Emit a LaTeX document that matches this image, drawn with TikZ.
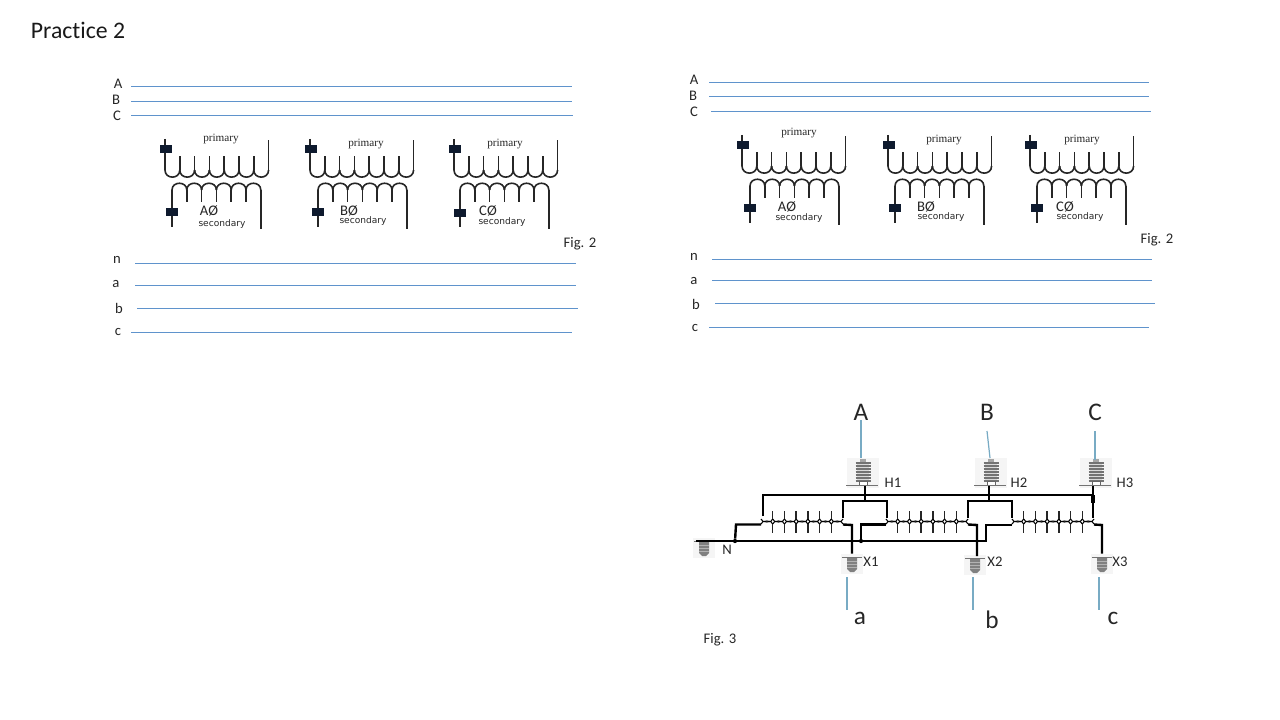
\documentclass[tikz,border=0pt]{standalone}
\usepackage{fontspec}
\setmainfont[Ligatures=NoCommon]{Carlito}
\newfontfamily\prifont{Liberation Serif}
\newfontfamily\secfont{DejaVu Sans}
\usepackage{xcolor}
\usetikzlibrary{positioning}
\definecolor{phaseblue}{HTML}{5F93CC}
\definecolor{feedblue}{HTML}{78ABC4}
\definecolor{boxnavy}{HTML}{0E1A2E}
\definecolor{inktext}{HTML}{262626}

% one transformer: name, post x, top y, sec x, sec box y
\newcommand{\xfmrunit}[5]{
	\begin{scope}[shift={(#2,#3)}]
		\coordinate (#1-pt) at (0,0);
		\coordinate (#1-pb) at (0,31);
		\draw[winding] (#1-pt) -- (#1-pb);
		\foreach \i in {0,...,6}
			\draw[winding] ({\i*14.8},31) .. controls ({\i*14.8},40.5) and ({(\i+1)*14.8},40.5) .. ({(\i+1)*14.8},31);
		\foreach \i in {1,...,6}
			\draw[winding] ({\i*14.8},31) -- ({\i*14.8},17);
		\draw[winding] (103.6,31) -- (103.6,1);
		\node[blackbox] (#1-pbox) at (1,10) {};
	\end{scope}
	\begin{scope}[shift={(#4,#3)}]
		\coordinate (#1-st) at (0,51);
		\coordinate (#1-sb) at (0,88);
		\draw[winding] (#1-st) -- (#1-sb);
		\foreach \i in {0,...,5}
			\draw[winding] ({\i*14.8},51) .. controls ({\i*14.8},42) and ({(\i+1)*14.8},42) .. ({(\i+1)*14.8},51);
		\foreach \i in {1,...,5}
			\draw[winding] ({\i*14.8},51) -- ({\i*14.8},63);
		\draw[winding] (88.8,51) -- (88.8,90);
		\node[blackbox] (#1-sbox) at (0,#5) {};
	\end{scope}
}

% small coil of fig 3: name, x left, width
\newcommand{\smallcoil}[3]{
	\begin{scope}[shift={(#2,521.5)}]
		\foreach \i in {0,...,6} {
			\draw[thick] ({\i*#3/7},-2.5) .. controls ({\i*#3/7},1.5) and ({(\i+1)*#3/7},1.5) .. ({(\i+1)*#3/7},-2.5);
			\draw[thick] ({\i*#3/7},2.5) .. controls ({\i*#3/7},-1.5) and ({(\i+1)*#3/7},-1.5) .. ({(\i+1)*#3/7},2.5);
		}
		\foreach \i in {1,...,6} {
			\draw[coilpost] ({\i*#3/7},-2.5) -- ({\i*#3/7},-11);
			\draw[coilpost] ({\i*#3/7},2.5) -- ({\i*#3/7},11);
		}
		\coordinate (#1-pl) at (0,-3);
		\coordinate (#1-pr) at (#3,-3);
		\coordinate (#1-sl) at (0,3);
		\coordinate (#1-sr) at (#3,3);
	\end{scope}
}

% high side bushing: name, x, y
\newcommand{\hvbushing}[3]{
	\node[bushbg,minimum width=24pt,minimum height=22pt] (#1) at (#2,#3) {};
	\begin{scope}[shift={(#2,#3)}]
		\fill[gray!70] (-3,-14) rectangle (3,-11);
		\fill[gray!30] (-6,-11) rectangle (6,8);
		\foreach \d in {-10,-7,...,8}
			\draw[line width=1pt,black!55] (-7.5,\d) -- (7.5,\d);
		\draw[black!60,fill=white] (-4,8.5) rectangle (4,12);
		\draw[black!55,semithick] (-17,12) -- (15,12);
	\end{scope}
}

% low side bushing: name, x, y
\newcommand{\lvbushing}[3]{
	\node[bushbg,minimum width=16.5pt,minimum height=15pt] (#1) at (#2,#3) {};
	\begin{scope}[shift={(#2,#3)}]
		\draw[black!55,semithick] (-10,-7) -- (10,-7);
		\fill[black!50] (-5,-6) -- (5,-6) -- (5,5) -- (2,8) -- (-2,8) -- (-5,5) -- cycle;
		\foreach \d in {-3,0,3}
			\draw[black!30] (-5,\d) -- (5,\d);
	\end{scope}
}

\begin{document}
\begin{tikzpicture}[x=0.75pt,y=-0.75pt]
	\tikzstyle{phase}=[draw=phaseblue,line width=1pt]
	\tikzstyle{feed}=[draw=feedblue,line width=0.9pt]
	\tikzstyle{winding}=[draw=black!85,line width=1.2pt]
	\tikzstyle{coilpost}=[draw=black!85,line width=1pt]
	\tikzstyle{heavy}=[draw=black,line width=1.8pt]
	\tikzstyle{blackbox}=[fill=boxnavy,draw=none,minimum width=9.5pt,minimum height=5.5pt,inner sep=0pt]
	\tikzstyle{bushbg}=[fill=gray!8,draw=none,inner sep=0pt]
	\tikzstyle{lbl}=[inner sep=0pt,text=inktext,font=\fontsize{11}{13}\selectfont]
	\tikzstyle{biglbl}=[inner sep=0pt,text=inktext,font=\fontsize{19}{21}\selectfont]
	\tikzstyle{prilbl}=[inner sep=0pt,text=inktext,font=\prifont\fontsize{8.4}{10}\selectfont]
	\tikzstyle{seclbl}=[inner sep=0pt,text=inktext,font=\secfont\fontsize{6.8}{8}\selectfont]
	\tikzstyle{dotjoin}=[circle,fill=black,inner sep=0pt,minimum size=3.2pt]

	\useasboundingbox (0,0) rectangle (1280,720);
	\node [inner sep=0pt,text=black!90,font=\fontsize{17.8}{20}\selectfont] (title) at (78,30) {Practice 2};

	% bus lines
	\foreach \n/\t/\lx/\ly/\xa/\ya/\xb in {LA/A/118/84/131/86.5/572,LB/B/116/100/131/101.5/572,LC/C/117/116/131/115.5/573,
		Ln/n/117/260/135/263.5/576,La/a/116/284/135/285.5/576,Lb/b/119/308/137/308.5/578,Lc/c/118/332/131/332.5/572,
		RA/A/694/80/709/82.5/1149,RB/B/693/96/709/96.5/1149,RC/C/694/112/711/111.5/1151,
		Rn/n/694/257/712/259.5/1152,Ra/a/694/281/712/280.5/1152,Rb/b/696/304/715/303.5/1155,Rc/c/695/328/709/327.5/1149} {
		\node [lbl] (\n) at (\lx,\ly) {\t};
		\coordinate (\n-s) at (\xa,\ya);
		\coordinate (\n-e) at (\xb,\ya);
		\draw [phase] (\n-s) -- (\n-e);
	}

	% fig 2 left
	\xfmrunit{T1}{165}{139}{172}{73}
	\xfmrunit{T2}{310}{139}{318}{73}
	\xfmrunit{T3}{454}{139}{460}{74}
	\node [prilbl] (T1-p) at (221,139) {primary};
	\node [prilbl] (T2-p) at (366,144) {primary};
	\node [prilbl] (T3-p) at (505,144) {primary};
	\node [lbl] (T1-ph) at (209,211) {AØ};
	\node [lbl] (T2-ph) at (349,211) {BØ};
	\node [lbl] (T3-ph) at (488,211) {CØ};
	\node [seclbl] (T1-s) at (222,224) {secondary};
	\node [seclbl] (T2-s) at (363,221) {secondary};
	\node [seclbl] (T3-s) at (502,222) {secondary};
	\node [lbl] (figL) at (580,244) {Fig. 2};

	% fig 2 right
	\xfmrunit{U1}{742}{135}{750}{73}
	\xfmrunit{U2}{888}{135}{895}{73}
	\xfmrunit{U3}{1030}{135}{1037}{73}
	\node [prilbl] (U1-p) at (799,133) {primary};
	\node [prilbl] (U2-p) at (944,140) {primary};
	\node [prilbl] (U3-p) at (1082,140) {primary};
	\node [lbl] (U1-ph) at (787,207) {AØ};
	\node [lbl] (U2-ph) at (926,207) {BØ};
	\node [lbl] (U3-ph) at (1065,207) {CØ};
	\node [seclbl] (U1-s) at (799,218) {secondary};
	\node [seclbl] (U2-s) at (941,217) {secondary};
	\node [seclbl] (U3-s) at (1080,217) {secondary};
	\node [lbl] (figR) at (1157,240) {Fig. 2};

	% fig 3 bushings
	\hvbushing{H1}{863}{473}
	\hvbushing{H2}{991}{473}
	\hvbushing{H3}{1096}{473}
	\lvbushing{XN}{704}{548}
	\lvbushing{X1}{852}{564}
	\lvbushing{X2}{975}{565}
	\lvbushing{X3}{1102}{564}
	\node [lbl] (H1-l) at (893,483) {H1};
	\node [lbl] (H2-l) at (1019,483) {H2};
	\node [lbl] (H3-l) at (1125,483) {H3};
	\node [lbl] (N-l) at (727,550) {N};
	\node [lbl] (X1-l) at (871,562) {X1};
	\node [lbl] (X2-l) at (995,562) {X2};
	\node [lbl] (X3-l) at (1120,562) {X3};
	\node [lbl] (fig3) at (720,640) {Fig. 3};

	% line names and feeders
	\foreach \n/\t/\lx/\ly/\xa/\ya/\xb/\yb in {fA/A/861/412/861/420/861/458,fB/B/987/412/987/431/990/458,fC/C/1095/412/1095/431/1095/460,
		fa/a/860/618/847/577/847/610,fb/b/992/620/973/577/973/610,fc/c/1113/618/1099/577/1099/610} {
		\node [biglbl] (\n) at (\lx,\ly) {\t};
		\coordinate (\n-s) at (\xa,\ya);
		\coordinate (\n-e) at (\xb,\yb);
		\draw [feed] (\n-s) -- (\n-e);
	}

	% coils
	\smallcoil{C1}{761}{82}
	\smallcoil{C2}{886}{82}
	\smallcoil{C3}{1012}{82}

	% heavy wiring
	\coordinate (busL) at (763,495);
	\coordinate (busR) at (1093,495);
	\coordinate (stem1) at (865,486);
	\coordinate (stem2) at (989,486);
	\coordinate (stem3) at (1093,486);
	\coordinate (drop1) at (763,516);
	\draw [heavy] (drop1) -- (busL) -- (busR);
	\draw [heavy] (stem1) -- (865,501);
	\draw [heavy] (stem2) -- (989,501);
	\draw [heavy] (stem3) -- (1093,518);
	\draw [black,line width=2.6pt] (1093,495) -- (1093,503);
	\draw [heavy] (843,518) -- (843,501) -- (887,501) -- (887,518);
	\draw [heavy] (968,518) -- (968,501) -- (1012,501) -- (1012,518);

	\coordinate (nbL) at (696,541);
	\coordinate (nbR) at (986,541);
	\node [dotjoin] (d1) at (735,541) {};
	\node [dotjoin] (d2) at (861,541) {};
	\draw [heavy] (nbL) -- (nbR) -- (986,525) -- (1012,525);
	\draw [heavy] (761,524.5) -- (736,524.5) -- (d1);
	\draw [heavy] (886,524.5) -- (861,524.5) -- (d2);
	\draw [heavy] (C1-sr) -- (852,525) -- (X1.north);
	\draw [heavy] (C2-sr) -- (977,525) -- (977,556);
	\draw [heavy] (C3-sr) -- (1102,525) -- (X3.north);
\end{tikzpicture}
\end{document}
